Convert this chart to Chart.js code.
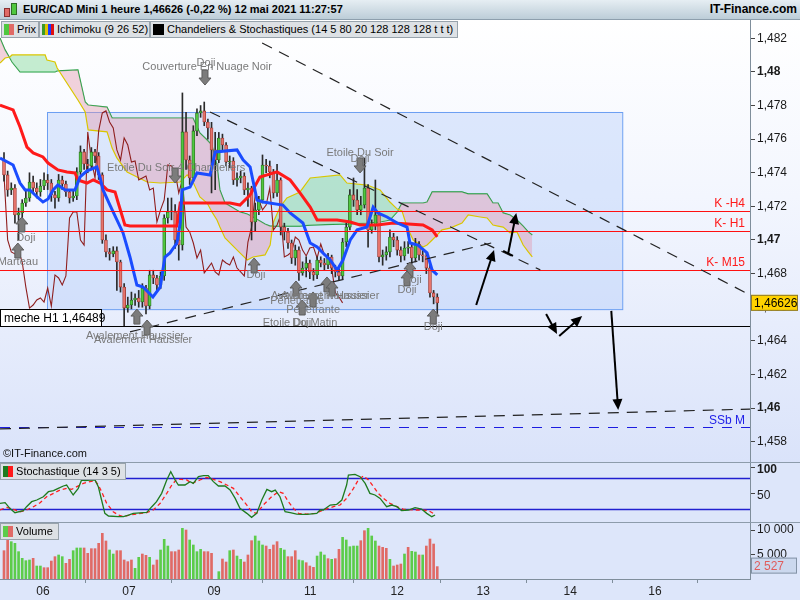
<!DOCTYPE html>
<html>
<head>
<meta charset="utf-8">
<script src="https://cdn.jsdelivr.net/npm/chart.js@4.4.1/dist/chart.umd.min.js"></script>
<style>
  html, body { margin: 0; padding: 0; }
  body { width: 800px; height: 600px; position: relative; overflow: hidden; font-family: "Liberation Sans", Arial, sans-serif; background: #dde6fa; }
  canvas { position: absolute; left: 0; }
  #main { top: 20px; background: linear-gradient(to bottom, #ffffff 0%, #f3f6fe 40%, #dae3fa 100%); }
  #sto { top: 462px; background: #dde6fa; }
  #vol { top: 522px; background: #dde6fa; }
  #hdr { position: absolute; left: 0; top: 0; width: 800px; height: 19px; background: linear-gradient(#e6eef3, #bccdd8); border-bottom: 1px solid #8d9fad; font: bold 12px "Liberation Sans", Arial, sans-serif; line-height: 19px; }
  #hdr .ttl { position: absolute; left: 23px; top: 0; font-size: 11px; }
  #hdr .site { position: absolute; right: 3px; top: 0; }
  .ico { position: absolute; display: block; }
  .leg { position: absolute; height: 15px; background: #dde1e5; border: 1px solid #98a3ac; font: 11px "Liberation Sans", Arial, sans-serif; line-height: 15px; color: #000; white-space: nowrap; overflow: hidden; }
  .leg i { display: inline-block; width: 5px; height: 11px; vertical-align: -2px; }
  .sep { position: absolute; left: 0; width: 800px; height: 1px; background: #8d9cab; }
  #copy { position: absolute; left: 3px; top: 447px; font: 11px "Liberation Sans", Arial, sans-serif; color: #111; }
</style>
</head>
<body>
<div id="hdr">
  <span class="ico" style="left:4px;top:8px;width:4px;height:7px;background:#e06a66;border:1px solid #8a3030"></span>
  <span class="ico" style="left:11px;top:3px;width:4px;height:10px;background:#4fc83f;border:1px solid #2d6e23"></span>
  <span class="ttl">EUR/CAD Mini 1 heure 1,46626 (-0,22 %) 12 mai 2021 11:27:57</span>
  <span class="site">IT-Finance.com</span>
</div>
<canvas id="main" width="800" height="442"></canvas>
<canvas id="sto" width="800" height="60"></canvas>
<canvas id="vol" width="800" height="78"></canvas>
<div class="sep" style="top:462px"></div>
<div class="sep" style="top:522px"></div>
<div class="leg" style="left:1px;top:21px;width:34px;padding-left:2px"><i style="background:#4fc83f"></i><i style="background:#e06a66"></i> Prix</div>
<div class="leg" style="left:39px;top:21px;width:107px;padding-left:2px"><i style="background:#3a9a2a;width:3px"></i><i style="background:#e0c000;width:3px"></i><i style="background:#1a3cff;width:3px"></i><i style="background:#e01010;width:3px"></i> Ichimoku (9 26 52)</div>
<div class="leg" style="left:150px;top:21px;width:304px;padding-left:2px"><i style="background:#000;width:11px"></i> Chandeliers &amp; Stochastiques (14 5 80 20 128 128 128 t t t)</div>
<div id="copy">©IT-Finance.com</div>
<div class="leg" style="left:0px;top:463px;width:122px;padding-left:2px"><i style="background:#1e7b1e"></i><i style="background:#ff1a1a"></i> Stochastique (14 3 5)</div>
<div class="leg" style="left:0px;top:523px;width:55px;padding-left:2px"><i style="background:#5ccc4a"></i><i style="background:#e06a66"></i> Volume</div>

<script>
// ---- price candles (1 bar = 1 hour) ----
const opens = [1.47476,1.47387,1.47298,1.47309,1.47149,1.47161,1.47220,1.47250,1.47345,1.47309,
  1.47286,1.47321,1.47357,1.47339,1.47268,1.47250,1.47357,1.47333,1.47286,1.47250,
  1.47262,1.47405,1.47524,1.47452,1.47440,1.47524,1.47500,1.47387,1.47000,1.46929,
  1.46917,1.46935,1.46869,1.46720,1.46595,1.46613,1.46643,1.46655,1.46631,1.46714,
  1.46607,1.46792,1.46774,1.46732,1.46786,1.47131,1.47167,1.47167,1.47000,1.46970,
  1.47643,1.47476,1.47369,1.47649,1.47756,1.47768,1.47702,1.47667,1.47536,1.47476,
  1.47607,1.47565,1.47464,1.47470,1.47357,1.47369,1.47381,1.47298,1.47309,1.47107,
  1.47179,1.47238,1.47446,1.47440,1.47405,1.47280,1.47357,1.47077,1.47048,1.46982,
  1.46893,1.46940,1.46804,1.46833,1.46863,1.46810,1.46792,1.46881,1.46863,1.46851,
  1.46899,1.46833,1.46810,1.46786,1.46988,1.47077,1.47268,1.47238,1.47179,1.47208,
  1.47309,1.47060,1.47089,1.47149,1.46899,1.46911,1.46929,1.47018,1.47000,1.46940,
  1.46905,1.46952,1.46958,1.46893,1.46976,1.46911,1.46905,1.46833,1.46685,1.46661];
const closes = [1.47387,1.47298,1.47309,1.47149,1.47161,1.47220,1.47250,1.47345,1.47309,1.47286,
  1.47321,1.47357,1.47339,1.47268,1.47250,1.47357,1.47333,1.47286,1.47250,1.47262,
  1.47405,1.47524,1.47452,1.47440,1.47524,1.47500,1.47387,1.47000,1.46929,1.46917,
  1.46935,1.46869,1.46720,1.46595,1.46613,1.46643,1.46655,1.46631,1.46714,1.46607,
  1.46792,1.46774,1.46732,1.46786,1.47131,1.47167,1.47167,1.47000,1.46970,1.47643,
  1.47476,1.47369,1.47649,1.47756,1.47768,1.47702,1.47667,1.47536,1.47476,1.47607,
  1.47565,1.47464,1.47470,1.47357,1.47369,1.47381,1.47298,1.47309,1.47107,1.47179,
  1.47238,1.47446,1.47440,1.47405,1.47280,1.47357,1.47077,1.47048,1.46982,1.46893,
  1.46940,1.46804,1.46833,1.46863,1.46810,1.46792,1.46881,1.46863,1.46851,1.46899,
  1.46833,1.46810,1.46786,1.46988,1.47077,1.47268,1.47238,1.47179,1.47208,1.47309,
  1.47060,1.47089,1.47149,1.46899,1.46911,1.46929,1.47018,1.47000,1.46940,1.46905,
  1.46952,1.46958,1.46893,1.46976,1.46911,1.46905,1.46833,1.46685,1.46661,1.46626];
const highs = [1.47520,1.47410,1.47340,1.47330,1.47190,1.47240,1.47290,1.47400,1.47380,1.47340,
  1.47360,1.47400,1.47390,1.47360,1.47290,1.47390,1.47380,1.47350,1.47300,1.47300,
  1.47430,1.47560,1.47540,1.47480,1.47550,1.47540,1.47520,1.47400,1.47030,1.46950,
  1.46960,1.46960,1.46880,1.46740,1.46660,1.46690,1.46680,1.46700,1.46740,1.46730,
  1.46820,1.46820,1.46790,1.46810,1.47150,1.47250,1.47250,1.47210,1.47050,1.47875,
  1.47760,1.47500,1.47680,1.47780,1.47800,1.47821,1.47720,1.47700,1.47640,1.47640,
  1.47630,1.47580,1.47500,1.47490,1.47400,1.47410,1.47400,1.47340,1.47320,1.47220,
  1.47260,1.47506,1.47480,1.47470,1.47420,1.47450,1.47370,1.47100,1.47070,1.47000,
  1.46970,1.46960,1.46870,1.46900,1.46880,1.46830,1.46900,1.46900,1.46890,1.46920,
  1.46910,1.46850,1.46830,1.47010,1.47100,1.47300,1.47369,1.47300,1.47260,1.47488,
  1.47330,1.47120,1.47357,1.47170,1.46940,1.46960,1.47060,1.47040,1.47020,1.46960,
  1.46990,1.46990,1.46980,1.47010,1.46990,1.46940,1.46920,1.46850,1.46700,1.46680];
const lows = [1.47350,1.47260,1.47270,1.47100,1.47000,1.47120,1.47200,1.47230,1.47280,1.47250,
  1.47260,1.47300,1.47300,1.47230,1.47190,1.47230,1.47300,1.47260,1.47220,1.47230,
  1.47240,1.47390,1.47420,1.47400,1.47420,1.47460,1.47360,1.46980,1.46900,1.46880,
  1.46900,1.46700,1.46690,1.46489,1.46570,1.46590,1.46610,1.46600,1.46600,1.46560,
  1.46590,1.46740,1.46700,1.46710,1.46760,1.47100,1.47120,1.46950,1.46880,1.46940,
  1.47420,1.47330,1.47350,1.47620,1.47730,1.47680,1.47600,1.47280,1.47300,1.47460,
  1.47530,1.47440,1.47430,1.47330,1.47320,1.47340,1.47270,1.47200,1.47000,1.47050,
  1.47150,1.47220,1.47400,1.47370,1.47250,1.47260,1.47030,1.47000,1.46950,1.46860,
  1.46850,1.46760,1.46790,1.46780,1.46770,1.46760,1.46770,1.46840,1.46820,1.46830,
  1.46800,1.46780,1.46760,1.46770,1.46960,1.47060,1.47200,1.47150,1.47150,1.47190,
  1.46958,1.47040,1.47060,1.46870,1.46850,1.46880,1.46900,1.46960,1.46910,1.46870,
  1.46880,1.46920,1.46860,1.46870,1.46880,1.46870,1.46800,1.46660,1.46620,1.46560];

// ---- volume ----
const volumes = [5780,7960,7620,7280,5580,4220,3740,3880,4220,2650,
  2650,2310,2310,3670,4560,4900,4560,3200,4010,5780,
  6330,6330,6330,5240,6190,6190,7280,9320,7760,5920,
  5100,5780,5780,3880,3540,3880,2180,4420,5100,4830,
  4420,2860,3880,5920,8100,6730,5580,5580,5920,10340,
  10000,7960,6940,5580,6050,5580,5580,5240,null,1500,
  4080,3470,5780,5920,4690,4010,3470,4900,7820,8780,
  7760,6940,6730,6050,6940,7620,6260,5920,4560,4560,
  5780,3880,3740,3330,2650,2380,4690,5510,4900,4150,
  4010,4150,6050,8500,7960,6600,6730,6730,7820,9860,
  10340,8780,7760,6730,6460,6260,4010,2650,2860,3060,
  5100,6460,5650,5510,4900,4900,6730,8160,7140,2527];
const volumeSide = 'rrggggggrg' + 'grrrrggrrg' + 'ggrrrrrrrg' + 'grrrrrggrr' + 'grrgggrrrg' +
  'rggggrrr-g' + 'rrgrggrrrg' + 'ggrrrrggrr' + 'rggrrrgggr' + 'grrgggggrr' + 'gggrrrgrrr' + 'grggrgrrrr';

// ---- Ichimoku ----
const tenkanX = [-1.1,2.5,4.4,5.8,7.1,9.1,10.7,12.1,13.5,14.8,16.8,19.5,20.9,22.8,25.5,26.4,27.2,29.1,32.7,34.6,
  36.5,38.2,40.9,42.9,44.2,45.6,47.5,48.4,48.9,51.1,53.0,56.6,58.0,64.0,65.7,67.6,69.5,71.2,76.6,78.6,
  82.1,84.1,86.0,87.6,89.6,91.5,93.1,95.1,97.0,99.7,101.4,102.7,105.2,108.0,110.7,111.5,113.7,116.2,117.6,119.0];
const tenkan = [1.47488,1.47446,1.47339,1.47298,1.47298,1.47256,1.47226,1.47244,1.47298,1.47327,
  1.47298,1.47298,1.47375,1.47411,1.47434,1.47369,1.47298,1.47208,1.47042,1.46899,
  1.46732,1.46720,1.46661,1.46720,1.46899,1.46923,1.46982,1.47101,1.47298,1.47315,
  1.47399,1.47387,1.47524,1.47536,1.47476,1.47434,1.47238,1.47226,1.47208,1.47161,
  1.47101,1.46982,1.46958,1.46923,1.46881,1.46821,1.46881,1.47000,1.47060,1.47077,
  1.47196,1.47161,1.47137,1.47101,1.47077,1.46982,1.46970,1.46923,1.46821,1.46792];
const kijunX = [-1.1,2.5,4.4,6.3,8.0,10.7,12.1,14.8,17.3,19.5,20.3,22.8,24.5,26.4,28.3,30.5,31.3,33.2,34.6,47.5,
  48.4,62.1,64.8,67.6,70.3,75.0,78.6,81.3,84.1,86.0,91.5,95.1,97.8,102.5,106.9,115.1,117.6,119.0];
const kijun = [1.47803,1.47774,1.47672,1.47553,1.47518,1.47494,1.47458,1.47417,1.47405,1.47399,
  1.47357,1.47339,1.47357,1.47339,1.47298,1.47286,1.47226,1.47089,1.47083,1.47083,
  1.47220,1.47220,1.47208,1.47268,1.47375,1.47405,1.47357,1.47280,1.47196,1.47119,
  1.47119,1.47107,1.47089,1.47089,1.47101,1.47089,1.47060,1.47018];
const cloudX = [-1.1,0.3,1.6,2.2,4.4,11.3,11.8,14.0,14.6,20.3,22.3,23.1,28.3,29.7,31.0,33.8,39.3,42.9,48.4,50.3,
  51.9,53.8,55.8,57.1,58.5,59.3,60.7,64.8,66.8,68.4,71.7,73.1,73.9,75.8,77.7,81.3,84.1,92.3,94.2,99.7,
  103.3,106.0,108.0,109.3,110.7,112.4,115.1,116.2,117.6,119.0,120.3,122.5,125.8,127.5,130.8,132.7,134.3,135.7,137.1,139.0,
  140.9,142.6,144.0,145.1];
const spanA = [1.48053,1.48083,1.48089,1.48101,1.48101,1.48101,1.48071,1.48059,1.48023,1.47833,
  1.47762,1.47655,1.47643,1.47547,1.47488,1.47405,1.47345,1.47339,1.47345,1.47387,
  1.47345,1.47256,1.47220,1.47167,1.47119,1.47077,1.47012,1.46923,1.46881,1.46899,
  1.46911,1.46970,1.47101,1.47196,1.47250,1.47286,1.47369,1.47387,1.47339,1.47327,
  1.47298,1.47226,1.47184,1.47173,1.47077,1.47000,1.46958,1.46970,1.47000,1.47030,
  1.47060,1.47071,1.47101,1.47149,1.47137,1.47131,1.47089,1.47083,1.47077,1.47042,
  1.47048,1.46970,1.46929,1.46899];
const spanB = [1.48202,1.48131,1.48083,1.48059,1.48000,1.48000,1.48000,1.48000,1.48006,1.48012,
  1.47821,1.47803,1.47791,1.47726,1.47726,1.47726,1.47726,1.47726,1.47726,1.47726,
  1.47726,1.47637,1.47595,1.47565,1.47446,1.47298,1.47220,1.47167,1.47155,1.47137,
  1.47095,1.47083,1.47083,1.47083,1.47083,1.47083,1.47089,1.47095,1.47095,1.47101,
  1.47107,1.47119,1.47167,1.47220,1.47220,1.47220,1.47220,1.47226,1.47286,1.47286,
  1.47286,1.47286,1.47286,1.47274,1.47274,1.47274,1.47220,1.47220,1.47161,1.47149,
  1.47119,1.47083,1.47048,1.47030];
const chikouShift = 26;

// ---- stochastic (14 3 5) ----
const stochKX = [-1.1,0.3,1.6,3.0,5.3,6.2,7.6,9.0,10.8,12.2,13.6,14.9,16.3,17.2,18.1,19.0,20.4,21.3,22.3,23.6,
  25.0,25.9,26.8,27.7,28.7,31.4,32.8,34.2,35.5,39.2,40.6,41.9,43.3,44.7,45.8,47.0,47.9,49.7,51.1,52.0,
  53.4,54.8,56.1,57.5,58.9,60.7,62.1,63.5,64.8,66.7,68.0,69.4,70.8,72.2,73.5,74.5,75.8,77.2,78.6,80.4,
  81.8,83.2,85.9,86.8,87.7,89.6,91.4,92.8,94.1,94.6,96.4,97.8,99.2,100.5,101.9,103.3,105.1,106.5,107.9,109.2,
  111.1,112.9,114.7,116.1,117.5,118.4];
const stochK = [31.7,32.9,22.0,13.6,17.5,25.2,34.9,38.1,44.5,54.2,56.2,60.7,65.2,67.1,57.4,47.8,60.7,76.8,75.5,76.8,
  76.8,63.9,38.1,12.3,7.2,5.9,5.9,9.1,12.3,14.2,25.2,34.9,51.0,76.8,92.9,76.8,67.1,67.1,73.6,70.3,
  83.2,85.2,85.2,73.6,65.2,65.2,57.4,41.3,22.0,12.3,4.6,12.3,38.1,58.7,54.2,57.4,44.5,15.5,13.6,11.0,
  10.4,10.4,12.3,18.8,18.8,28.4,29.7,38.1,67.1,86.5,87.7,83.2,70.3,51.0,47.8,41.3,25.2,28.4,25.2,17.5,
  18.8,23.3,20.7,12.3,5.9,9.1];
const stochDX = [-1.1,0.7,2.6,4.4,6.2,8.1,9.9,11.7,13.6,15.4,17.2,18.6,20.0,21.8,23.6,25.0,25.9,26.8,28.2,30.0,
  31.4,32.8,34.6,36.4,39.2,41.0,42.9,44.7,46.1,47.4,48.8,50.2,51.6,53.8,55.7,57.5,59.3,61.2,63.0,64.8,
  66.7,68.0,69.4,71.2,73.5,75.4,76.7,78.1,79.5,80.9,83.2,85.4,87.3,89.1,90.5,92.3,94.1,96.0,97.3,98.7,
  100.1,101.5,102.8,104.2,106.0,107.9,109.7,112.5,114.7,116.6,117.9];
const stochD = [18.8,23.9,20.1,15.5,18.8,25.2,32.9,44.5,51.0,57.4,60.7,58.7,63.9,70.3,73.6,75.5,67.1,54.2,31.7,15.5,
  9.1,5.9,9.1,11.0,13.6,18.8,31.7,51.0,67.1,78.0,78.0,76.8,70.3,76.8,81.9,78.0,73.6,67.1,60.7,44.5,
  28.4,15.5,12.3,28.4,44.5,54.2,51.0,34.9,22.0,12.3,11.0,12.3,17.5,22.0,25.2,28.4,41.3,60.7,76.8,84.5,
  76.8,63.9,51.0,41.3,31.7,25.2,20.1,18.8,18.8,17.5,12.3];
const stochLevels = [80, 20];

// ---- axes ----
const xMin = -1.1, xMax = 204.9;
const dayTicks = [10.7, 34.3, 57.7, 84.1, 108, 131.6, 155.5, 178.8];
const dayLabels = ['06', '07', '09', '11', '12', '13', '14', '16'];
const priceTicks = [1.458,1.460,1.462,1.464,1.466,1.468,1.470,1.472,1.474,1.476,1.478,1.480,1.482];
const lastPrice = 1.46626;
const lastVolume = 2527;

// ---- drawings on the price panel ----
const kLevels = [1.47173, 1.47054, 1.46821];
const kNames = ['K -H4', 'K- H1', 'K- M15'];
const mecheLow = 1.46489;
const ssbLevel = 1.45887;
const zoneBox = [11.8, 1.47762, 169.8, 1.46589];
const trendLines = [[70.9,1.48172,204.9,1.46673],[56.6,1.47762,147.3,1.46822],[34.6,1.46453,134.9,1.46988],[-1.1,1.45876,204.9,1.45994]];
const moveArrows = [[129.7,1.46613,134.6,1.46941],[138.5,1.46923,140.7,1.47161],[148.9,1.46560,151.9,1.46441],[152.5,1.46429,158.8,1.46548],[166.8,1.46578,168.7,1.45988]];
const tickSeg = [137.1,1.46935,139.8,1.46905];
const patternNames = ['Couverture En Nuage Noir','Doji','Etoile Du Soir 4 Chandeliers','Etoile Du Soir','Doji','Doji','Marteau',
  'Avalement Haussier','Avalement Haussier','Doji','Pénétrante','Pénétrante','Avalement Haussier','Avalement Haussier',
  'Etoile Du Matin','Doji','Doji','Doji','Doji'];
const patternX = [55.8,55.5,47.3,97.8,97.8,6.0,3.8,36.0,38.2,69.2,80.5,84.9,86.8,89.6,81.3,81.8,112.1,110.7,117.9];
const patternY = [1.48029,1.48053,1.47428,1.47518,1.47482,1.47012,1.46869,1.46429,1.46405,1.46792,1.46637,1.46584,1.46667,1.46667,1.46506,1.46506,1.46762,1.46703,1.46482];
const upMarkX = [4.9,3.8,36.5,39.3,68.7,80.2,81.9,84.9,88.7,90.1,111.5,110.7,117.9];
const upMarkY = [1.47137,1.46982,1.46589,1.46524,1.46893,1.46756,1.46643,1.46691,1.46780,1.46756,1.46869,1.46816,1.46589];
const downMarkX = [55.2,47.0,97.8];
const downMarkY = [1.47922,1.47339,1.47399];

const FONT = '"Liberation Sans", Arial, sans-serif';
Chart.defaults.font.family = FONT;
Chart.defaults.animation = false;

function fixWidth(scale) { scale.width = 50; scale.paddingTop = 0; scale.paddingBottom = 0; }
function setTicks(values) { return function (scale) { scale.ticks = values.map(v => ({ value: v })); }; }
function commaNum(v) { return String(parseFloat(v.toFixed(3))).replace('.', ','); }

function markArrow(ctx, x0, y0, x1, y1) {
  const a = Math.atan2(y1 - y0, x1 - x0), L = 11, W = 5;
  ctx.beginPath();
  ctx.moveTo(x0, y0);
  ctx.lineTo(x1 - L * 0.8 * Math.cos(a), y1 - L * 0.8 * Math.sin(a));
  ctx.stroke();
  ctx.beginPath();
  ctx.moveTo(x1, y1);
  ctx.lineTo(x1 - L * Math.cos(a) + W * Math.sin(a), y1 - L * Math.sin(a) - W * Math.cos(a));
  ctx.lineTo(x1 - L * Math.cos(a) - W * Math.sin(a), y1 - L * Math.sin(a) + W * Math.cos(a));
  ctx.closePath();
  ctx.fill();
}

function grayArrow(ctx, x, y, up) {
  const s = up ? 1 : -1;
  ctx.beginPath();
  ctx.moveTo(x, y);
  ctx.lineTo(x + 6, y + 7 * s);
  ctx.lineTo(x + 3, y + 7 * s);
  ctx.lineTo(x + 3, y + 15 * s);
  ctx.lineTo(x - 3, y + 15 * s);
  ctx.lineTo(x - 3, y + 7 * s);
  ctx.lineTo(x - 6, y + 7 * s);
  ctx.closePath();
  ctx.fillStyle = '#7c7c7c';
  ctx.fill();
  ctx.strokeStyle = '#5c5c5c';
  ctx.lineWidth = 1;
  ctx.stroke();
}

const mainDeco = {
  id: 'mainDeco',
  beforeDatasetsDraw(chart) {
    const ctx = chart.ctx, X = v => chart.scales.x.getPixelForValue(v), Y = v => chart.scales.y.getPixelForValue(v);
    const x0 = X(zoneBox[0]), y0 = Y(zoneBox[1]), x1 = X(zoneBox[2]), y1 = Y(zoneBox[3]);
    ctx.save();
    ctx.fillStyle = 'rgba(165,195,250,0.33)';
    ctx.fillRect(x0, y0, x1 - x0, y1 - y0);
    ctx.strokeStyle = '#6c9ff2';
    ctx.lineWidth = 1;
    ctx.strokeRect(Math.round(x0) + 0.5, Math.round(y0) + 0.5, x1 - x0, y1 - y0);
    ctx.restore();
  },
  afterDatasetsDraw(chart) {
    const ctx = chart.ctx, area = chart.chartArea;
    const X = v => chart.scales.x.getPixelForValue(v), Y = v => chart.scales.y.getPixelForValue(v);
    ctx.save();
    ctx.beginPath();
    ctx.rect(area.left, area.top, area.right - area.left, area.bottom - area.top);
    ctx.clip();

    // K levels
    ctx.font = '12px ' + FONT;
    ctx.textAlign = 'right';
    ctx.textBaseline = 'bottom';
    kLevels.forEach((lv, i) => {
      const y = Math.round(Y(lv)) + 0.5;
      ctx.strokeStyle = '#ff1010';
      ctx.lineWidth = 1;
      ctx.beginPath(); ctx.moveTo(area.left, y); ctx.lineTo(area.right, y); ctx.stroke();
      ctx.fillStyle = '#ff1a1a';
      ctx.fillText(kNames[i], area.right - 5, y - 2);
    });

    // meche line
    const ym = Math.round(Y(mecheLow)) + 0.5;
    ctx.strokeStyle = '#000';
    ctx.beginPath(); ctx.moveTo(area.left, ym); ctx.lineTo(area.right, ym); ctx.stroke();

    // SSb M
    const ys = Math.round(Y(ssbLevel)) + 0.5;
    ctx.setLineDash([10, 9]);
    ctx.strokeStyle = '#1c1ce0';
    ctx.beginPath(); ctx.moveTo(area.left, ys); ctx.lineTo(area.right, ys); ctx.stroke();
    ctx.fillStyle = '#2020e8';
    ctx.fillText('SSb M', area.right - 5, ys - 1);

    // dashed trend lines
    ctx.setLineDash([11, 8]);
    ctx.strokeStyle = '#222';
    ctx.lineWidth = 1.2;
    trendLines.forEach(t => {
      ctx.beginPath(); ctx.moveTo(X(t[0]), Y(t[1])); ctx.lineTo(X(t[2]), Y(t[3])); ctx.stroke();
    });
    ctx.setLineDash([]);

    // black move arrows
    ctx.strokeStyle = '#000';
    ctx.fillStyle = '#000';
    ctx.lineWidth = 2;
    moveArrows.forEach(a => markArrow(ctx, X(a[0]), Y(a[1]), X(a[2]), Y(a[3])));
    ctx.beginPath(); ctx.moveTo(X(tickSeg[0]), Y(tickSeg[1])); ctx.lineTo(X(tickSeg[2]), Y(tickSeg[3])); ctx.stroke();

    // candle pattern markers
    upMarkX.forEach((v, i) => grayArrow(ctx, X(v), Y(upMarkY[i]), true));
    downMarkX.forEach((v, i) => grayArrow(ctx, X(v), Y(downMarkY[i]), false));
    ctx.font = '11px ' + FONT;
    ctx.textAlign = 'center';
    ctx.textBaseline = 'middle';
    ctx.fillStyle = '#7a7a7a';
    patternNames.forEach((t, i) => ctx.fillText(t, X(patternX[i]), Y(patternY[i])));

    // meche label
    ctx.fillStyle = '#fff';
    ctx.fillRect(area.left, ym - 17, 101, 17);
    ctx.strokeStyle = '#000';
    ctx.lineWidth = 1;
    ctx.strokeRect(area.left + 0.5, ym - 17, 101, 17);
    ctx.fillStyle = '#000';
    ctx.font = '12px ' + FONT;
    ctx.textAlign = 'left';
    ctx.fillText('meche H1 1,46489', area.left + 4, ym - 8);
    ctx.restore();
  },
  afterDraw(chart) {
    const ctx = chart.ctx, y = chart.scales.y.getPixelForValue(lastPrice), x = chart.chartArea.right;
    ctx.save();
    ctx.fillStyle = '#ffd200';
    ctx.fillRect(x + 1, y - 8, 47, 16);
    ctx.strokeStyle = '#8c7a30';
    ctx.strokeRect(x + 1.5, y - 7.5, 46, 15);
    ctx.fillStyle = '#000';
    ctx.font = '12px ' + FONT;
    ctx.textBaseline = 'middle';
    ctx.fillText('1,46626', x + 4, y + 1);
    ctx.restore();
  }
};

const bodies = closes.map((c, i) => ({ x: i, y: [opens[i], c] }));
const wicks = closes.map((c, i) => ({ x: i, y: [lows[i], highs[i]] }));
const upBar = closes.map((c, i) => c >= opens[i]);
const chikou = closes.slice(chikouShift).map((c, i) => ({ x: i, y: c }));
const pts = (xs, ys) => xs.map((x, i) => ({ x: x, y: ys[i] }));

new Chart(document.getElementById('main'), {
  type: 'bar',
  data: {
    datasets: [
      { type: 'line', label: 'SSA', data: pts(cloudX, spanA), borderColor: '#d9c600', borderWidth: 1.2, pointRadius: 0,
        fill: { target: '+1', above: 'rgba(150,222,170,0.55)', below: 'rgba(226,150,172,0.42)' }, order: 9 },
      { type: 'line', label: 'SSB', data: pts(cloudX, spanB), borderColor: '#1d9a3a', borderWidth: 1.2, pointRadius: 0, fill: false, order: 9 },
      { type: 'line', label: 'Chikou', data: chikou, borderColor: '#8e1e1e', borderWidth: 1.1, pointRadius: 0, fill: false, order: 8 },
      { label: 'Wicks', data: wicks, backgroundColor: '#2a2a2a', barThickness: 1, grouped: false, order: 5 },
      { label: 'Bodies', data: bodies, backgroundColor: upBar.map(u => u ? '#4fc83f' : '#e6746c'),
        borderColor: upBar.map(u => u ? '#2d6e23' : '#9e3b35'), borderWidth: 0.8, borderSkipped: false,
        barThickness: 3, minBarLength: 1, grouped: false, order: 4 },
      { type: 'line', label: 'Kijun', data: pts(kijunX, kijun), borderColor: '#ff1a1a', borderWidth: 3, pointRadius: 0, fill: false, order: 3 },
      { type: 'line', label: 'Tenkan', data: pts(tenkanX, tenkan), borderColor: '#1a4cff', borderWidth: 3, pointRadius: 0, fill: false, order: 2 }
    ]
  },
  options: {
    responsive: false,
    devicePixelRatio: 1,
    layout: { padding: 0 },
    plugins: { legend: { display: false }, tooltip: { enabled: false } },
    scales: {
      x: { type: 'linear', min: xMin, max: xMax, offset: false, display: false },
      y: {
        position: 'right', min: 1.45679, max: 1.48309, beginAtZero: false,
        afterFit: fixWidth, afterBuildTicks: setTicks(priceTicks),
        border: { display: true, color: '#7f8e9b' },
        grid: { drawOnChartArea: false, tickLength: 5, color: '#444' },
        ticks: {
          padding: 2, color: '#1a1a1a', callback: v => commaNum(v),
          font: c => ({ family: FONT, size: 12, weight: (c.tick && [1.46, 1.47, 1.48].some(r => Math.abs(r - c.tick.value) < 1e-6)) ? 'bold' : 'normal' })
        }
      }
    }
  },
  plugins: [mainDeco]
});

const stoDeco = {
  id: 'stoDeco',
  beforeDatasetsDraw(chart) {
    const ctx = chart.ctx, a = chart.chartArea;
    ctx.save();
    ctx.strokeStyle = '#2020d0';
    ctx.lineWidth = 1.3;
    stochLevels.forEach(l => {
      const y = Math.round(chart.scales.y.getPixelForValue(l)) + 0.5;
      ctx.beginPath(); ctx.moveTo(a.left, y); ctx.lineTo(a.right, y); ctx.stroke();
    });
    ctx.restore();
  }
};

new Chart(document.getElementById('sto'), {
  type: 'line',
  data: {
    datasets: [
      { label: '%K', data: pts(stochKX, stochK), borderColor: '#1e7b1e', borderWidth: 1.3, pointRadius: 0, order: 1 },
      { label: '%D', data: pts(stochDX, stochD), borderColor: '#ff2020', borderWidth: 1.3, borderDash: [4, 3], pointRadius: 0, order: 2 }
    ]
  },
  options: {
    responsive: false,
    devicePixelRatio: 1,
    layout: { padding: 0 },
    plugins: { legend: { display: false }, tooltip: { enabled: false } },
    scales: {
      x: { type: 'linear', min: xMin, max: xMax, display: false },
      y: {
        position: 'right', min: -4.4, max: 111.6,
        afterFit: fixWidth, afterBuildTicks: setTicks([50, 100]),
        border: { display: true, color: '#7f8e9b' },
        grid: { drawOnChartArea: false, tickLength: 5, color: '#444' },
        ticks: { padding: 2, labelOffset: 2, color: '#1a1a1a', font: c => ({ family: FONT, size: 12, weight: (c.tick && c.tick.value === 100) ? 'bold' : 'normal' }) }
      }
    }
  },
  plugins: [stoDeco]
});

const volDeco = {
  id: 'volDeco',
  afterDraw(chart) {
    const ctx = chart.ctx, y = chart.scales.y.getPixelForValue(lastVolume) - 1, x = chart.chartArea.right;
    ctx.save();
    ctx.fillStyle = '#cbd8ee';
    ctx.fillRect(x + 1, y - 8, 46, 16);
    ctx.strokeStyle = '#8393a6';
    ctx.strokeRect(x + 1.5, y - 7.5, 45, 15);
    ctx.fillStyle = '#e05c5c';
    ctx.font = '12px ' + FONT;
    ctx.textBaseline = 'middle';
    ctx.fillText('2 527', x + 4, y + 1);
    ctx.restore();
  }
};

new Chart(document.getElementById('vol'), {
  type: 'bar',
  data: {
    datasets: [{
      label: 'Volume',
      data: volumes.map((v, i) => ({ x: i, y: v })),
      backgroundColor: volumes.map((v, i) => volumeSide[i] === 'g' ? '#5ccc4a' : '#e06a66'),
      barThickness: 2, grouped: false
    }]
  },
  options: {
    responsive: false,
    devicePixelRatio: 1,
    layout: { padding: 0 },
    plugins: { legend: { display: false }, tooltip: { enabled: false } },
    scales: {
      x: {
        type: 'linear', min: xMin, max: xMax, offset: false,
        afterFit: s => { s.height = 21; s.paddingLeft = 0; s.paddingRight = 0; },
        afterBuildTicks: setTicks(dayTicks),
        border: { display: true, color: '#7f8e9b' },
        grid: { drawOnChartArea: false, tickLength: 4, color: '#7f8e9b' },
        ticks: { autoSkip: false, maxRotation: 0, padding: 1, color: '#222', font: { size: 12 },
          callback: v => dayLabels[dayTicks.indexOf(v)] }
      },
      y: {
        position: 'right', min: 0, max: 11633,
        afterFit: fixWidth, afterBuildTicks: setTicks([5000, 10000]),
        border: { display: true, color: '#7f8e9b' },
        grid: { drawOnChartArea: false, tickLength: 5, color: '#444' },
        ticks: { padding: 2, labelOffset: 0, color: '#1a1a1a', font: { size: 12 }, callback: v => v === 10000 ? '10 000' : '5 000' }
      }
    }
  },
  plugins: [volDeco]
});
</script>
</body>
</html>
